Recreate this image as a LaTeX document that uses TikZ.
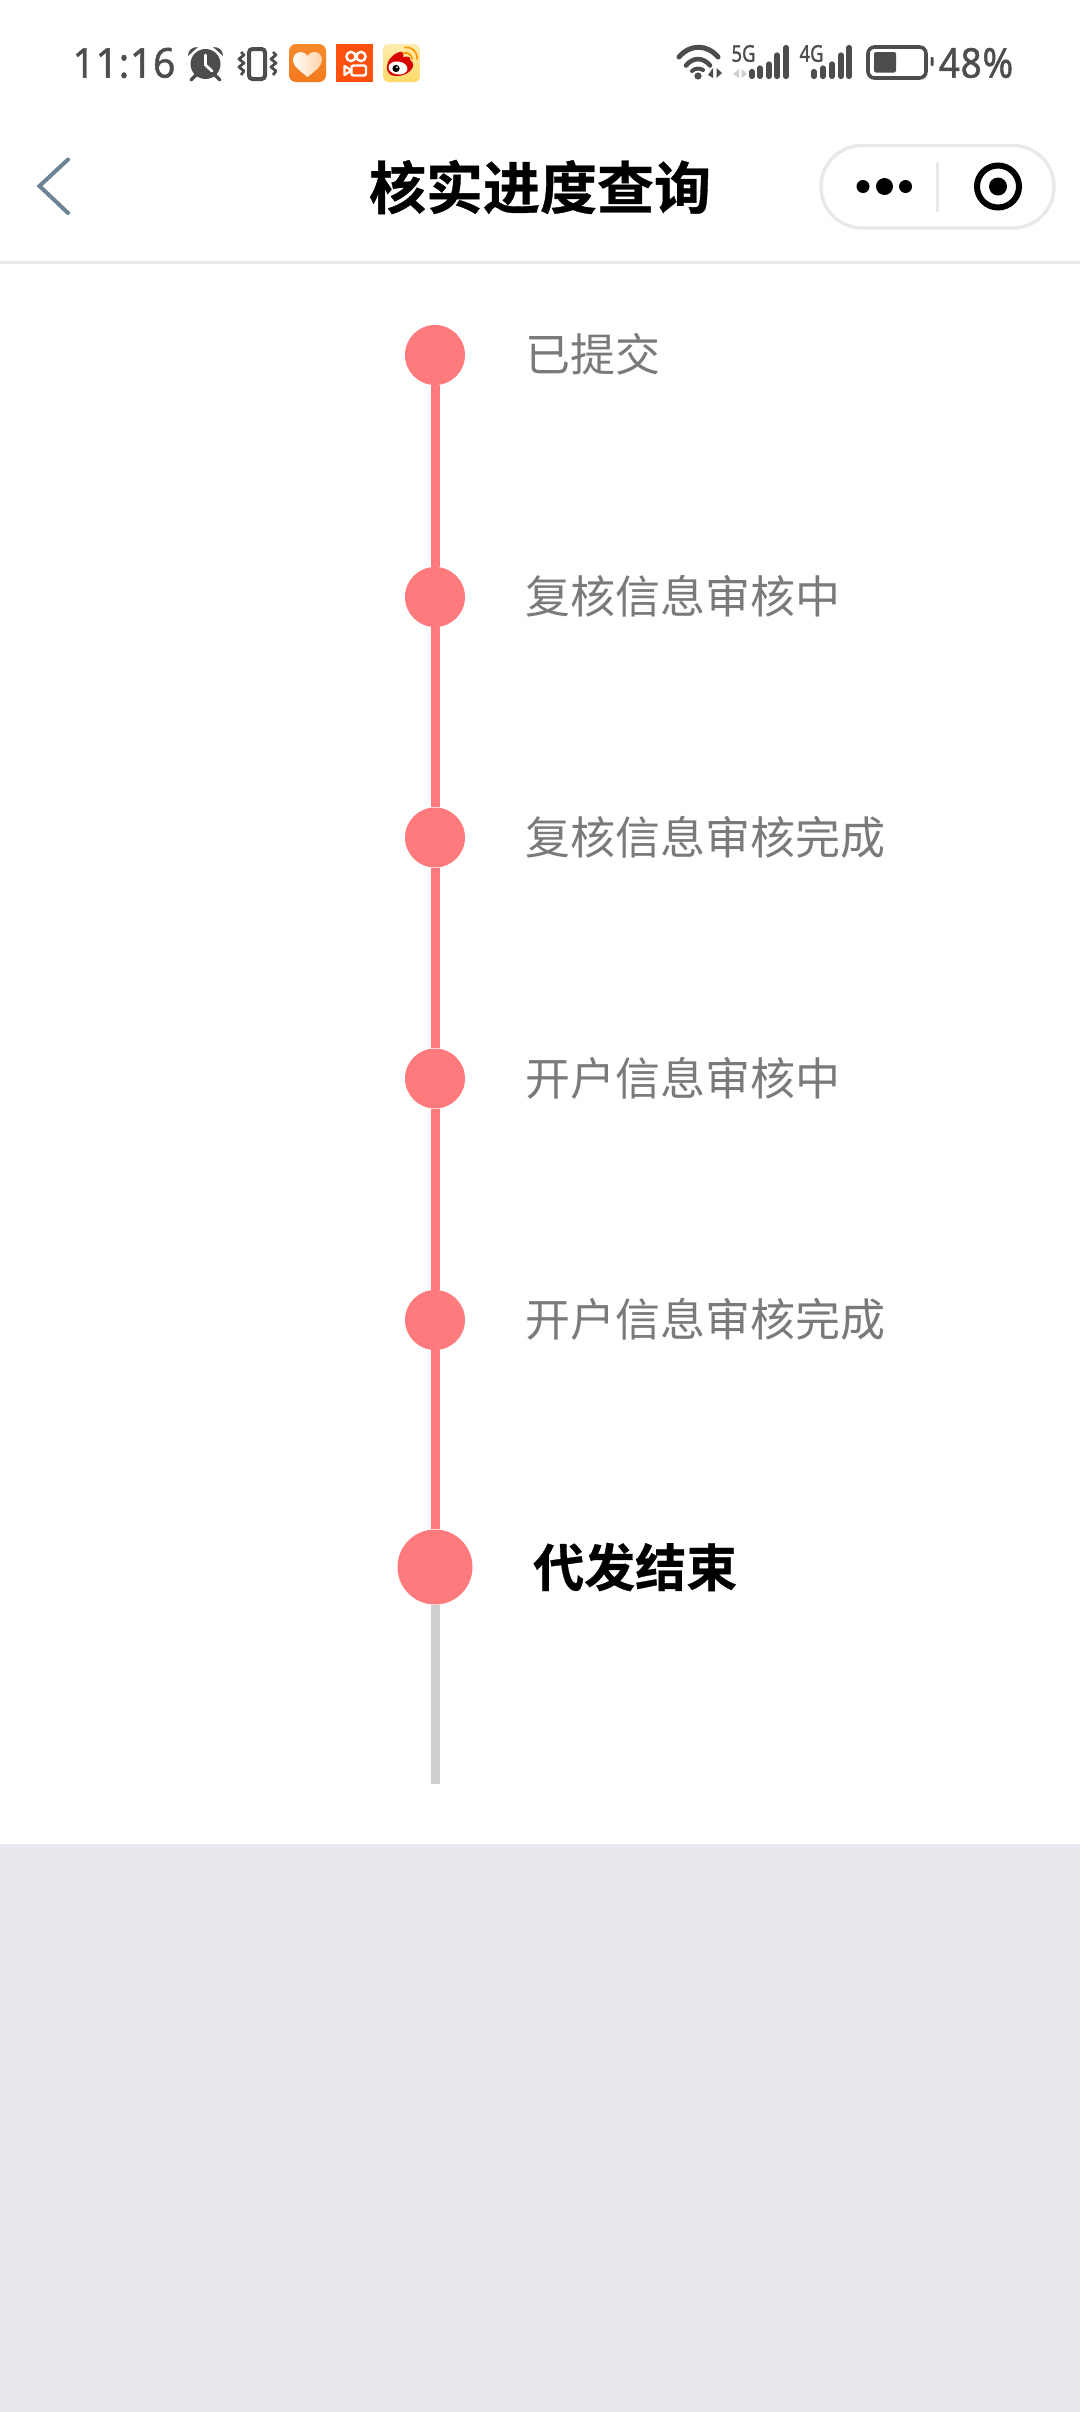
\documentclass[tikz,border=0pt]{standalone}
\usepackage{fontspec}
\newfontfamily\cjk{Noto Sans CJK SC}
\newfontfamily\cjkb[FakeBold=0.6]{Noto Sans CJK SC Bold}
\newfontfamily\statusfont[FakeBold=1.2,LetterSpace=2]{Noto Sans}
\newfontfamily\netfont[FakeBold=1.6]{Noto Sans}
\definecolor{pinkc}{HTML}{FF7A7D}
\definecolor{greyline}{HTML}{CFCFCF}
\definecolor{bgfoot}{HTML}{E8E8EE}
\definecolor{hair}{HTML}{E9E9E9}
\definecolor{statc}{HTML}{4D4D4D}
\definecolor{labelc}{HTML}{7A7A7A}
\definecolor{chev}{HTML}{6C8494}
\tikzset{
  dotdone/.style={circle,fill=pinkc,inner sep=0pt,minimum size=60pt},
  dotnow/.style={circle,fill=pinkc,inner sep=0pt,minimum size=75pt},
  linkdone/.style={draw=pinkc,line width=9pt},
  linknext/.style={draw=greyline,line width=9pt},
  steplabel/.style={anchor=west,inner sep=0pt,text=labelc,font=\cjk\fontsize{45}{45}\selectfont},
  nowlabel/.style={anchor=west,inner sep=0pt,text=black,font=\cjkb\fontsize{51}{51}\selectfont},
  titlelabel/.style={inner sep=0pt,text=black,font=\cjkb\fontsize{57}{57}\selectfont},
  stattext/.style={inner sep=0pt,text=statc,font=\statusfont\fontsize{41}{41}\selectfont},
  nettext/.style={inner sep=0pt,text=statc,font=\netfont\fontsize{23}{23}\selectfont},
  statfill/.style={fill=statc,draw=none},
  statline/.style={draw=statc,fill=none},
  bar/.style={draw=statc,line width=5.2pt,line cap=round}
}
\begin{document}
\begin{tikzpicture}[x=1pt,y=-1pt]
\useasboundingbox (0,0) rectangle (1080,2412);
\fill[white] (0,0) rectangle (1080,1844);
\fill[bgfoot] (0,1844) rectangle (1080,2412);
\fill[hair] (0,260.5) rectangle (1080,263.5);

% status bar left
\node[stattext] (time) at (124,63) {\scalebox{.95}[1]{11:16}};
% alarm clock
\fill[statfill] (205.5,64) circle[radius=15pt];
\draw[white,line width=2.8pt,line cap=round] (205.5,55) -- (205.5,65) -- (212,71);
\fill[statfill] (188,56) .. controls (188,50) and (192,47) .. (198,47) -- cycle;
\fill[statfill] (223,56) .. controls (223,50) and (219,47) .. (213,47) -- cycle;
\draw[statc,line width=3.4pt,line cap=round] (196,75) -- (191,80);
\draw[statc,line width=3.4pt,line cap=round] (215,75) -- (220,80);
% vibrate
\draw[statline,line width=4pt,rounded corners=3.5pt] (249,49) rectangle (265,79);
\draw[statc,line width=2.8pt,line join=round] (241,52) -- (244,55) -- (239,59) -- (244,63) -- (239,67) -- (244,71) -- (241,75);
\draw[statc,line width=2.8pt,line join=round] (273,52) -- (276,55) -- (271,59) -- (276,63) -- (271,67) -- (276,71) -- (273,75);
% health app
\shade[rounded corners=7pt,top color={rgb,255:red,247;green,138;blue,44},bottom color={rgb,255:red,243;green,122;blue,30}] (289,44) rectangle (326,82);
\shade[left color=white!98!orange,right color=orange!35!white] (307.5,77) .. controls (300,71) and (293,66) .. (293,60) .. controls (293,55) and (297,52) .. (301,52) .. controls (304,52) and (306,54) .. (307.5,56) .. controls (309,54) and (311,52) .. (314,52) .. controls (319,52) and (322,55) .. (322,60) .. controls (322,66) and (315,71) .. (307.5,77) -- cycle;
% kuaishou
\fill[fill={rgb,255:red,255;green,80;blue,14}] (336,44) rectangle (373,82);
\draw[white,line width=2.4pt] (351,56.5) circle[radius=4.6pt];
\draw[white,line width=2.4pt] (361,56.5) circle[radius=4.6pt];
\draw[white,line width=2.4pt,rounded corners=2pt] (351.5,65.5) rectangle (366,75.5);
\draw[white,line width=2.2pt,line join=round] (351.5,70.5) -- (344.5,66) -- (344.5,75) -- cycle;
% weibo
\shade[rounded corners=5pt,top color={rgb,255:red,255;green,236;blue,175},bottom color={rgb,255:red,255;green,218;blue,105}] (383,44) rectangle (420,82);
\fill[red!85!black] (387,67) .. controls (387,60) and (394,53) .. (400,52) .. controls (403,51) and (404,54) .. (403,57) .. controls (408,56) and (411,57) .. (410,60) .. controls (414,62) and (414,67) .. (411,70) .. controls (406,76) and (396,77) .. (391,75) .. controls (388,74) and (387,71) .. (387,67) -- cycle;
\fill[white,rotate around={-8:(398,68)}] (398,68) ellipse[x radius=9.5pt,y radius=6.5pt];
\fill[black] (396,68.5) circle[radius=3.6pt];
\fill[white] (396.8,67.3) circle[radius=1pt];
\draw[orange!85!yellow,line width=1.6pt,line cap=round] (404,53) .. controls (408,52) and (412,55) .. (412,59);
\draw[orange!85!yellow,line width=1.6pt,line cap=round] (405,47.5) .. controls (411,46) and (418,52) .. (417,59);

% status bar right
\draw[statc,line width=5pt,line cap=round] (679,57) .. controls (690,44) and (707,44) .. (718,57);
\draw[statc,line width=4.6pt,line cap=round] (686,65.5) .. controls (693,57) and (703,57) .. (710,65.5);
\draw[statc,line width=4pt,line cap=round] (692,71) .. controls (695,68) and (700,68) .. (703,70);
\fill[statfill] (698,76) circle[radius=3.6pt];
\fill[statfill] (713,68) -- (713,78) -- (708,75) -- cycle;
\fill[statfill] (716.5,68) -- (716.5,78) -- (722,73) -- cycle;
\node[nettext] (fiveg) at (743.5,53.5) {\scalebox{.8}[1]{5G}};
\fill[greyline] (739,69) -- (739,78) -- (733,74) -- cycle;
\fill[greyline] (741.5,69) -- (741.5,78) -- (747,74) -- cycle;
\draw[bar] (752,71.5) -- (752,76.5);
\draw[bar] (760,68) -- (760,76.5);
\draw[bar] (769,64) -- (769,76.5);
\draw[bar] (777,55) -- (777,76.5);
\draw[bar] (786,47.5) -- (786,76.5);
\node[nettext] (fourg) at (811.5,53.5) {\scalebox{.8}[1]{4G}};
\draw[bar] (814,71.5) -- (814,76.5);
\draw[bar] (823,68) -- (823,76.5);
\draw[bar] (832,64) -- (832,76.5);
\draw[bar] (841,55) -- (841,76.5);
\draw[bar] (849,47.5) -- (849,76.5);
% battery
\draw[statline,line width=3.6pt,rounded corners=6.5pt] (868,47) rectangle (926,78);
\fill[statfill,rounded corners=2pt] (874,52) rectangle (896,72.5);
\fill[statfill,rounded corners=1pt] (930.5,57) rectangle (933.5,66);
\node[stattext] (pct) at (976,63) {\scalebox{.9}[1]{48\%}};

% navigation bar
\coordinate (chevtop) at (68,159.5);
\coordinate (chevtip) at (39.5,186);
\coordinate (chevbot) at (68,213);
\draw[chev,line width=4pt,line cap=round,line join=miter] (chevtop) -- (chevtip) -- (chevbot);
\node[titlelabel] (title) at (540,187) {核实进度查询};
\draw[hair,line width=3.4pt,fill=white,rounded corners=41pt] (821,145.5) rectangle (1054,228);
\draw[hair,line width=3pt] (937.7,162) -- (937.7,212);
\fill[black] (863,186.5) circle[radius=6.5pt];
\fill[black] (884.5,186.5) circle[radius=8.5pt];
\fill[black] (905.5,186.5) circle[radius=6.5pt];
\draw[black,line width=6pt] (998,186.5) circle[radius=21pt];
\fill[black] (998,186.5) circle[radius=9pt];

% timeline
\node[dotdone] (n1) at (435,355) {};
\node[dotdone] (n2) at (435,597) {};
\node[dotdone] (n3) at (435,837.5) {};
\node[dotdone] (n4) at (435,1078.5) {};
\node[dotdone] (n5) at (435,1320) {};
\node[dotnow]  (n6) at (435,1567) {};
\coordinate (tail) at (435,1784);
\draw[linkdone] (n1.south) -- (n2.north);
\draw[linkdone] (n2.south) -- (n3.north);
\draw[linkdone] (n3.south) -- (n4.north);
\draw[linkdone] (n4.south) -- (n5.north);
\draw[linkdone] (n5.south) -- (n6.north);
\draw[linknext] (n6.south) -- (tail);
\node[steplabel] (t1) at (525.5,354.5) {已提交};
\node[steplabel] (t2) at (525.5,596.5) {复核信息审核中};
\node[steplabel] (t3) at (525.5,837) {复核信息审核完成};
\node[steplabel] (t4) at (525.5,1078) {开户信息审核中};
\node[steplabel] (t5) at (525.5,1319.5) {开户信息审核完成};
\node[nowlabel] (t6) at (533,1567) {代发结束};
\end{tikzpicture}
\end{document}
